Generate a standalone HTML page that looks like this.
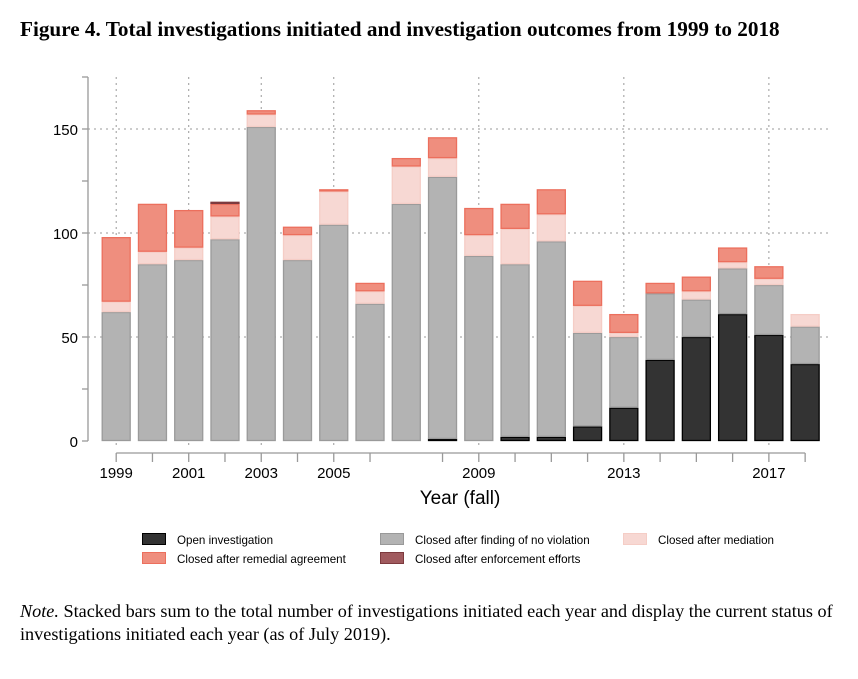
<!DOCTYPE html>
<html><head><meta charset="utf-8"><style>
body{margin:0;background:#fff;width:858px;height:674px;overflow:hidden}
svg text{font-family:"Liberation Sans",sans-serif}
</style></head><body>
<svg width="858" height="674">
<text x="20" y="36" style="font-family:'Liberation Serif',serif" font-size="21.2" font-weight="bold">Figure 4. Total investigations initiated and investigation outcomes from 1999 to 2018</text>
<g id="grid"></g>
<g id="bars"></g>
<g id="axes"></g>
<text x="460" y="504" text-anchor="middle" font-size="19">Year (fall)</text>
<g font-size="11.6">
<g><rect x="142.5" y="533.5" width="23" height="11" fill="#333" stroke="#000"/><text x="177" y="544">Open investigation</text></g>
<g><rect x="380.5" y="533.5" width="23" height="11" fill="#b3b3b3" stroke="#999"/><text x="415" y="544">Closed after finding of no violation</text></g>
<g><rect x="623.5" y="533.5" width="23" height="11" fill="#f7d8d3" stroke="#f5cdc6"/><text x="658" y="544">Closed after mediation</text></g>
<g><rect x="142.5" y="552.5" width="23" height="11" fill="#ef8e7e" stroke="#ec6f5d"/><text x="177" y="563">Closed after remedial agreement</text></g>
<g><rect x="380.5" y="552.5" width="23" height="11" fill="#a05a5e" stroke="#7d3a3e"/><text x="415" y="563">Closed after enforcement efforts</text></g>
</g>
<text x="20" y="617" font-size="18.2" style="font-family:'Liberation Serif',serif"><tspan font-style="italic">Note.</tspan> Stacked bars sum to the total number of investigations initiated each year and display the current status of</text>
<text x="20" y="640" font-size="18.2" style="font-family:'Liberation Serif',serif">investigations initiated each year (as of July 2019).</text>
</svg>
<script>
const years=[1999,2000,2001,2002,2003,2004,2005,2006,2007,2008,2009,2010,2011,2012,2013,2014,2015,2016,2017,2018];
const openInv=[0,0,0,0,0,0,0,0,0,1,0,2,2,7,16,39,50,61,51,37];
const noViolation=[62,85,87,97,151,87,104,66,114,126,89,83,94,45,34,32,18,22,24,18];
const mediation=[5,6,6,11,6,12,16,6,18,9,10,17,13,13,2,0,4,3,3,6];
const remedial=[31,23,18,6,2,4,1,4,4,10,13,12,12,12,9,5,7,7,6,0];
const enforcement=[0,0,0,1,0,0,0,0,0,0,0,0,0,0,0,0,0,0,0,0];
const yTicks=[0,50,100,150];
const xTickLabels=[1999,2001,2003,2005,2009,2013,2017];
const NS="http://www.w3.org/2000/svg";
const y0=441, k=2.08, x0=116.2, dx=36.26, bw=29;
const Y=v=>y0-v*k, X=yr=>x0+(yr-1999)*dx;
function mk(tag,at,parent){const e=document.createElementNS(NS,tag);for(const a in at)e.setAttribute(a,at[a]);parent.appendChild(e);return e;}
const grid=document.getElementById('grid'),bars=document.getElementById('bars'),axes=document.getElementById('axes');
yTicks.forEach(t=>{if(t>0){const l=mk('line',{x1:88,x2:830,y1:Y(t),y2:Y(t),stroke:'#999','stroke-dasharray':'2,4'},grid);

}});
xTickLabels.forEach(yr=>{const l=mk('line',{x1:X(yr),x2:X(yr),y1:77,y2:446,stroke:'#999','stroke-dasharray':'2,4'},grid);

});
const series=[[openInv,'#333','#000'],[noViolation,'#b3b3b3','#9a9a9a'],[mediation,'#f7d8d3','#f5cdc6'],[remedial,'#ef8e7e','#ec6f5d'],[enforcement,'#a05a5e','#7d3a3e']];
const names=['open','no-violation','mediation','remedial','enforcement'];
years.forEach((yr,i)=>{let cum=0;series.forEach((s,j)=>{const v=s[0][i];if(v>0){const r=mk('rect',{x:X(yr)-bw/2+0.5,y:Y(cum+v)+0.5,width:bw-1,height:Math.max(v*k-1,0.5),fill:s[1],stroke:s[2],'stroke-width':1.3},bars);

}cum+=v;});});
mk('line',{x1:88,x2:88,y1:77,y2:441,stroke:'#999','stroke-width':1.3},axes);
for(let v=0;v<=175;v+=25){mk('line',{x1:82,x2:88,y1:Y(v),y2:Y(v),stroke:'#999','stroke-width':1.3},axes);}
yTicks.forEach(t=>{const tx=mk('text',{x:78,y:Y(t)+6,'text-anchor':'end','font-size':15},axes);tx.textContent=t;

});
mk('line',{x1:X(1999),x2:X(2018),y1:453,y2:453,stroke:'#999','stroke-width':1.3},axes);
years.forEach(yr=>{if(yr!==2007)mk('line',{x1:X(yr),x2:X(yr),y1:453,y2:462,stroke:'#999','stroke-width':1.3},axes);});
xTickLabels.forEach(yr=>{const tx=mk('text',{x:X(yr),y:478,'text-anchor':'middle','font-size':15},axes);tx.textContent=yr;

});
</script>
</body></html>
